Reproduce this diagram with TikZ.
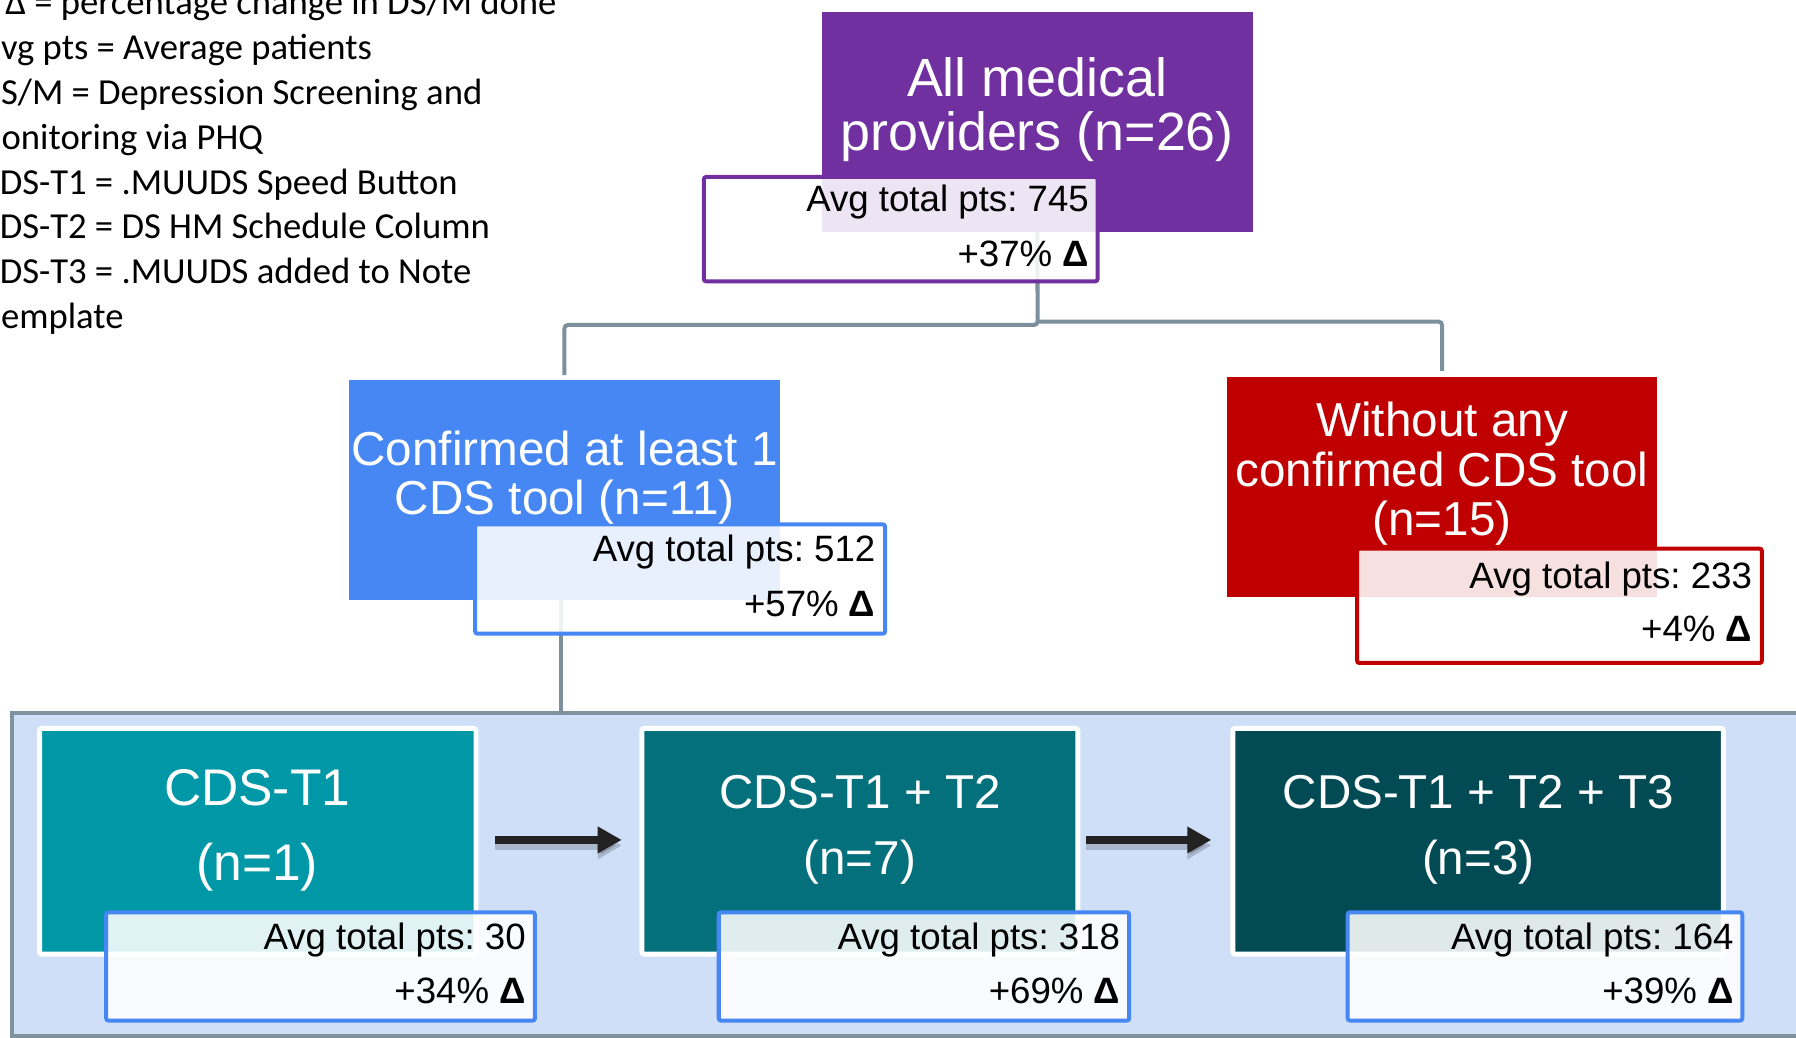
\documentclass[tikz,border=0pt]{standalone}
\usepackage{fontspec}
\setmainfont{Liberation Sans}
\newfontfamily\legendfont{Carlito}
\usetikzlibrary{fit,arrows.meta,calc}
\definecolor{cPurple}{HTML}{7030A0}
\definecolor{cBlue}{HTML}{4687F3}
\definecolor{cRed}{HTML}{C00000}
\definecolor{cTealA}{HTML}{0097A7}
\definecolor{cTealB}{HTML}{03707C}
\definecolor{cTealC}{HTML}{024B55}
\definecolor{cCont}{HTML}{CFDFF8}
\definecolor{cContBorder}{HTML}{7F939E}
\definecolor{cConn}{HTML}{7B8F9C}
\definecolor{cArrow}{HTML}{222222}
\frenchspacing
\begin{document}
\begin{tikzpicture}[x=0.5pt,y=-0.5pt,
  box/.style={inner sep=0pt, outer sep=0pt},
  tealbox/.style={box, draw=white, line width=2.15pt, rounded corners=1pt},
  statbox/.style={box, fill=white, fill opacity=0.88, line width=1.75pt, rounded corners=1pt},
  conn/.style={draw=cConn, line width=1.75pt, rounded corners=1.5pt},
  arr/.style={draw=cArrow, line width=3.2pt, -{Triangle[length=10.5pt,width=11pt]}},
  arrshadow/.style={draw=black, draw opacity=0.18, fill opacity=0.18, line width=3.6pt, -{Triangle[length=10.5pt,width=11.5pt]}},
  bigtext/.style={inner sep=0pt, anchor=base, text=white},
  stattext/.style={inner sep=0pt, anchor=base east, text=black, font=\fontsize{16pt}{18pt}\selectfont},
  legendtext/.style={inner sep=0pt, anchor=base west, text=black, font=\legendfont\fontsize{16pt}{18pt}\selectfont}
]
\useasboundingbox (0,0) rectangle (1568,906);
\clip (0,0) rectangle (1568,906);

% legend
\node[legendtext] (lg1) at (4.4,13) {Δ = percentage change in DS/M done};
\node[legendtext] (lg2) at (0.5,52.1) {vg pts = Average patients};
\node[legendtext] (lg3) at (0.5,91.2) {S/M = Depression Screening and};
\node[legendtext] (lg4) at (1,130.3) {onitoring via PHQ};
\node[legendtext] (lg5) at (-0.5,169.4) {DS-T1 = .MUUDS Speed Button};
\node[legendtext] (lg6) at (-0.5,208.5) {DS-T2 = DS HM Schedule Column};
\node[legendtext] (lg7) at (-0.5,247.6) {DS-T3 = .MUUDS added to Note};
\node[legendtext] (lg8) at (0.5,286.7) {emplate};

% container
\node[box, fill=cCont, draw=cContBorder, line width=1.75pt, fit={(10.7,622.5) (1600,904.5)}] (cont) {};

% main boxes
\node[box, fill=cPurple, fit={(718,10.2) (1093.5,202.3)}] (all) {};
\node[box, fill=cBlue, fit={(304.6,331.8) (681,523.6)}] (conf) {};
\node[box, fill=cRed, fit={(1071,328.9) (1447,521)}] (without) {};

% teal boxes
\node[tealbox, fill=cTealA, fit={(34.55,635.95) (415.55,833.05)}] (t1) {};
\node[tealbox, fill=cTealB, fit={(560.45,635.95) (941.05,833.05)}] (t2) {};
\node[tealbox, fill=cTealC, fit={(1076.35,635.95) (1504.55,833.05)}] (t3) {};

% connectors
\coordinate (jl) at (905.8,283.7);
\coordinate (jr) at (905.8,280.8);
\draw[conn, shorten >=2.2pt] (all.south) -- (jl) -| (conf.north);
\draw[conn, shorten >=2.6pt] (jr) -| (without.north);
\draw[conn] ([xshift=-1.5pt]conf.south) -- ([xshift=-1.5pt]conf.south |- cont.north);

% arrows
\draw[arrshadow, shorten <=8.35pt, shorten >=8.8pt] ([yshift=-1.8pt]t1.east) -- ([yshift=-1.8pt]t2.west);
\draw[arrshadow, shorten <=3.6pt, shorten >=9.4pt] ([yshift=-1.8pt]t2.east) -- ([yshift=-1.8pt]t3.west);
\draw[arr, shorten <=8.35pt, shorten >=8.8pt] ([yshift=0.6pt]t1.east) -- ([yshift=0.6pt]t2.west);
\draw[arr, shorten <=3.6pt, shorten >=9.4pt] ([yshift=0.6pt]t2.east) -- ([yshift=0.6pt]t3.west);

% stat boxes
\node[statbox, draw=cPurple, fit={(614.5,154.5) (958.2,245.6)}] (sAll) {};
\node[statbox, draw=cBlue, fit={(414.9,457.8) (772.7,553.2)}] (sConf) {};
\node[statbox, draw=cRed, fit={(1184.8,479) (1538.2,578.8)}] (sWithout) {};
\node[statbox, draw=cBlue, fit={(92.7,796.5) (467,891)}] (s1) {};
\node[statbox, draw=cBlue, fit={(627.5,796.5) (985.8,891)}] (s2) {};
\node[statbox, draw=cBlue, fit={(1176.6,796.5) (1521.1,891)}] (s3) {};

% big texts
\node[bigtext, font=\fontsize{23.5pt}{26pt}\selectfont] (allA) at (905.5,84.4) {All medical};
\node[bigtext, font=\fontsize{23.5pt}{26pt}\selectfont] (allB) at (905.5,131.6) {providers (n=26)};
\node[bigtext, font=\fontsize{20.8pt}{24pt}\selectfont] (confA) at (493,406) {Confirmed at least 1};
\node[bigtext, font=\fontsize{20.8pt}{24pt}\selectfont] (confB) at (493,449) {CDS tool (n=11)};
\node[bigtext, font=\fontsize{20.8pt}{24pt}\selectfont] (woA) at (1259,381.2) {Without any};
\node[bigtext, font=\fontsize{20.8pt}{24pt}\selectfont] (woB) at (1259,424.9) {confirmed CDS tool};
\node[bigtext, font=\fontsize{20.8pt}{24pt}\selectfont] (woC) at (1259,467.7) {(n=15)};
\node[bigtext, font=\fontsize{22.5pt}{26pt}\selectfont] (t1A) at (224.5,702.8) {CDS-T1};
\node[bigtext, font=\fontsize{22.5pt}{26pt}\selectfont] (t1B) at (224.5,768.5) {(n=1)};
\node[bigtext, font=\fontsize{20.75pt}{24pt}\selectfont] (t2A) at (750.7,705.7) {CDS-T1 + T2};
\node[bigtext, font=\fontsize{20.75pt}{24pt}\selectfont] (t2B) at (750.7,763.9) {(n=7)};
\node[bigtext, font=\fontsize{20.75pt}{24pt}\selectfont] (t3A) at (1290.5,705.7) {CDS-T1 + T2 + T3};
\node[bigtext, font=\fontsize{20.75pt}{24pt}\selectfont] (t3B) at (1290.5,763.9) {(n=3)};

% stat texts
\node[stattext] (sAllA) at (951,184.8) {Avg total pts: 745};
\node[stattext] (sAllB) at (951,232.8) {+37\% \textbf{Δ}};
\node[stattext] (sConfA) at (764.6,490.6) {Avg total pts: 512};
\node[stattext] (sConfB) at (764.6,538) {+57\% \textbf{Δ}};
\node[stattext] (sWoA) at (1530,513.6) {Avg total pts: 233};
\node[stattext] (sWoB) at (1530,560.2) {+4\% \textbf{Δ}};
\node[stattext] (s1A) at (459.4,828.8) {Avg total pts: 30};
\node[stattext] (s1B) at (459.4,876) {+34\% \textbf{Δ}};
\node[stattext] (s2A) at (978.3,828.8) {Avg total pts: 318};
\node[stattext] (s2B) at (978.3,876) {+69\% \textbf{Δ}};
\node[stattext] (s3A) at (1513.9,828.8) {Avg total pts: 164};
\node[stattext] (s3B) at (1513.9,876) {+39\% \textbf{Δ}};
\end{tikzpicture}
\end{document}
